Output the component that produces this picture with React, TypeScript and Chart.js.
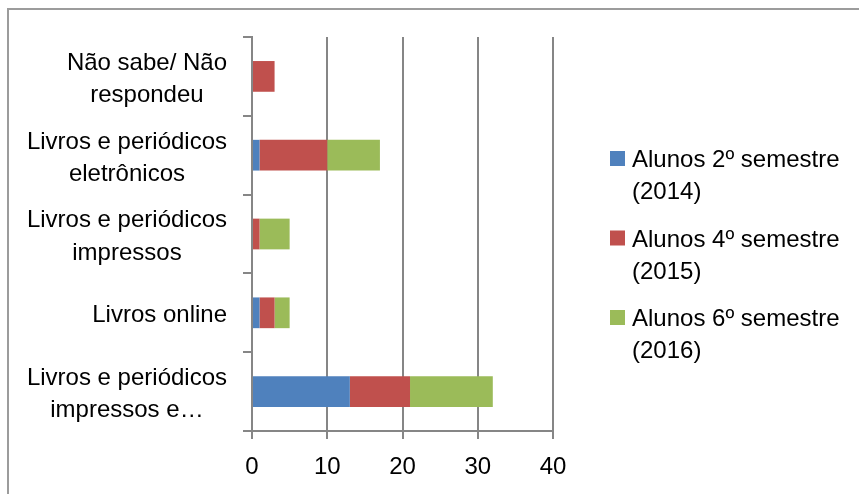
import React, { useEffect, useRef } from "react";
import { Chart, registerables } from "chart.js";

Chart.register(...registerables);

const categories: (string | string[])[] = [
  ["Não sabe/ Não", "respondeu"],
  ["Livros e periódicos", "eletrônicos"],
  ["Livros e periódicos", "impressos"],
  "Livros online",
  ["Livros e periódicos", "impressos e…"],
];

const seriesNames: string[][] = [
  ["Alunos 2º semestre", "(2014)"],
  ["Alunos 4º semestre", "(2015)"],
  ["Alunos 6º semestre", "(2016)"],
];

const alunos2014 = [0, 1, 0, 1, 13];
const alunos2015 = [3, 9, 1, 2, 8];
const alunos2016 = [0, 7, 4, 2, 11];

const xTicks = [0, 10, 20, 30, 40];

const seriesColors = ["#4F81BD", "#C0504D", "#9BBB59"];

const FONT_FAMILY = "'Liberation Sans', Arial, sans-serif";
const FONT_SIZE = 24;
const AXIS_COLOR = "#868686";
const TEXT_COLOR = "#000000";

const yLabelPlugin = {
  id: "yLabels",
  afterDraw(chart: any) {
    const ctx = chart.ctx;
    const yScale = chart.scales.y;
    const area = chart.chartArea;
    const right = area.left - 9 - 16;
    const lh = 32.5;
    ctx.save();
    ctx.font = `${FONT_SIZE}px ${FONT_FAMILY}`;
    ctx.fillStyle = TEXT_COLOR;
    ctx.textAlign = "center";
    ctx.textBaseline = "middle";
    categories.forEach((lab, i) => {
      const lines = Array.isArray(lab) ? lab : [lab];
      const w = Math.max(...lines.map((l) => ctx.measureText(l).width));
      const cx = right - w / 2;
      const cy = yScale.getPixelForTick(i) + 3;
      const y0 = cy - ((lines.length - 1) * lh) / 2;
      lines.forEach((l, j) => ctx.fillText(l, cx, y0 + j * lh));
    });
    ctx.restore();
  },
};

const legendPlugin = {
  id: "customLegend",
  afterDraw(chart: any) {
    const ctx = chart.ctx;
    const area = chart.chartArea;
    const boxX = area.right + 57;
    const textX = boxX + 22;
    const firstBaseline = area.top + 130;
    const entryGap = 79.5;
    const lineGap = 32;
    const box = 15;
    ctx.save();
    ctx.font = `${FONT_SIZE}px ${FONT_FAMILY}`;
    ctx.textAlign = "left";
    ctx.textBaseline = "alphabetic";
    chart.data.datasets.forEach((ds: any, i: number) => {
      const base = firstBaseline + i * entryGap;
      ctx.fillStyle = ds.backgroundColor;
      ctx.fillRect(boxX, base - box - 1, box, box);
      ctx.fillStyle = TEXT_COLOR;
      const lines: string[] = seriesNames[i];
      lines.forEach((l, j) => ctx.fillText(l, textX, base + j * lineGap));
    });
    ctx.restore();
  },
};

export default function App() {
  const canvasRef = useRef<HTMLCanvasElement | null>(null);

  useEffect(() => {
    const canvas = canvasRef.current;
    if (!canvas) return;
    const chart = new Chart(canvas, {
      type: "bar",
      data: {
        labels: categories.map((c) => (Array.isArray(c) ? c.join(" ") : c)),
        datasets: [alunos2014, alunos2015, alunos2016].map((d, i) => ({
          label: seriesNames[i].join(" "),
          data: d,
          backgroundColor: seriesColors[i],
          borderWidth: 0,
          barPercentage: 0.39,
          categoryPercentage: 1,
        })),
      },
      options: {
        indexAxis: "y",
        responsive: false,
        animation: false,
        devicePixelRatio: 1,
        layout: { padding: { top: 37, left: 0, right: 306, bottom: 0 } },
        plugins: {
          legend: { display: false },
          title: { display: false },
          tooltip: { enabled: false },
        },
        scales: {
          x: {
            type: "linear",
            stacked: true,
            min: xTicks[0],
            max: xTicks[xTicks.length - 1],
            afterBuildTicks: (scale: any) => {
              scale.ticks = xTicks.map((v) => ({ value: v }));
            },
            afterFit: (scale: any) => {
              scale.height = 63;
            },
            grid: {
              color: AXIS_COLOR,
              lineWidth: 2,
              drawTicks: true,
              tickLength: 8,
              tickColor: AXIS_COLOR,
              tickWidth: 2,
            },
            border: { display: true, color: AXIS_COLOR, width: 2 },
            ticks: {
              color: TEXT_COLOR,
              padding: 14,
              font: { family: FONT_FAMILY, size: FONT_SIZE },
              maxRotation: 0,
            },
          },
          y: {
            type: "category",
            stacked: true,
            offset: true,
            afterFit: (scale: any) => {
              scale.width = 252;
            },
            grid: {
              offset: true,
              drawOnChartArea: false,
              drawTicks: true,
              tickLength: 9,
              color: AXIS_COLOR,
              lineWidth: 2,
              tickColor: AXIS_COLOR,
              tickWidth: 2,
            },
            border: { display: true, color: AXIS_COLOR, width: 2 },
            ticks: { display: false },
          },
        },
      },
      plugins: [yLabelPlugin, legendPlugin],
    } as any);
    return () => chart.destroy();
  }, []);

  return (
    <div
      style={{
        position: "fixed",
        left: 0,
        top: 0,
        width: 859,
        height: 494,
        background: "#ffffff",
        overflow: "hidden",
      }}
    >
      <div
        style={{
          position: "absolute",
          left: 7,
          top: 8,
          right: -10,
          bottom: -10,
          borderTop: "2px solid #9c9c9c",
          borderLeft: "2px solid #9c9c9c",
        }}
      />
      <canvas
        ref={canvasRef}
        width={859}
        height={494}
        style={{ position: "absolute", left: 0, top: 0, width: 859, height: 494 }}
      />
    </div>
  );
}
